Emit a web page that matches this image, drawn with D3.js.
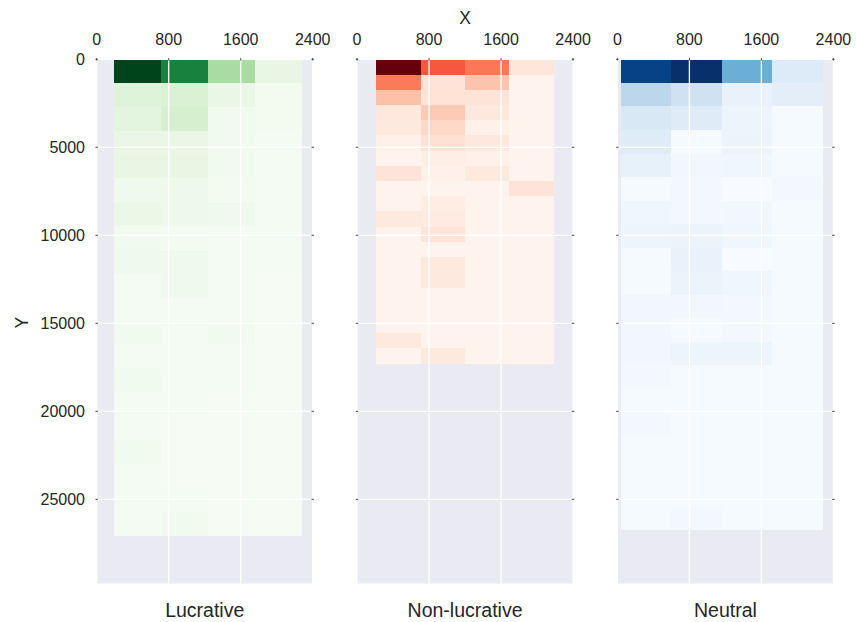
<!DOCTYPE html>
<html>
<head>
<meta charset="utf-8">
<script src="https://cdn.jsdelivr.net/npm/d3@7"></script>
<style>
  html, body { margin: 0; padding: 0; background: #ffffff; }
  svg { display: block; }
  text { font-family: "Liberation Sans", Arial, sans-serif; fill: #262626; }
</style>
</head>
<body>
<svg id="chart" width="856" height="622"></svg>
<script>
// Panel titles
const panelNames = ["Lucrative", "Non-lucrative", "Neutral"];

// Axis ticks (shared by all panels)
const xTicks = [0, 800, 1600, 2400];
const yTicks = [0, 5000, 10000, 15000, 20000, 25000];
const xDomain = [0, 2400];
const yDomain = [0, 29780];

// Data extents of each 2D histogram (X range, Y range)
const lucrativeXRange = [192, 2281];
const lucrativeYRange = [0, 27070];
const nonLucrativeXRange = [216, 2186];
const nonLucrativeYRange = [0, 17290];
const neutralXRange = [37, 2281];
const neutralYRange = [0, 26760];

// Bin counts: one row per Y bin (top to bottom), four X bins per row
const lucrativeCounts = [
  [100, 79, 35, 10],
  [15, 17, 9, 3],
  [13, 19, 4, 3],
  [9, 9, 4, 2],
  [10, 10, 4, 2],
  [5, 6, 3, 2],
  [8, 6, 5, 2],
  [4, 3, 2, 2],
  [5, 5, 2, 2],
  [2, 5, 2, 1],
  [2, 2, 2, 1],
  [4, 2, 4, 1],
  [2, 2, 2, 1],
  [4, 2, 2, 1],
  [2, 2, 1, 1],
  [2, 1, 1, 1],
  [4, 1, 1, 1],
  [2, 1, 1, 1],
  [2, 2, 1, 1],
  [2, 4, 1, 1]
];

const nonLucrativeCounts = [
  [100, 55, 46, 9],
  [45, 10, 22, 1],
  [23, 11, 10, 1],
  [8, 20, 8, 1],
  [7, 15, 3, 1],
  [3, 12, 8, 1],
  [1, 4, 3, 1],
  [10, 3, 7, 1],
  [1, 1, 1, 10],
  [1, 5, 1, 1],
  [7, 6, 1, 1],
  [1, 10, 1, 1],
  [1, 1, 1, 1],
  [1, 7, 1, 1],
  [1, 7, 1, 1],
  [1, 1, 1, 1],
  [1, 1, 1, 1],
  [1, 1, 1, 1],
  [7, 1, 1, 1],
  [1, 7, 1, 1]
];

const neutralCounts = [
  [93, 100, 50, 13],
  [28, 20, 7, 10],
  [15, 12, 5, 1],
  [12, 1, 6, 1],
  [8, 3, 4, 1],
  [1, 2, 0, 2],
  [4, 2, 3, 1],
  [5, 6, 4, 1],
  [1, 7, 0, 1],
  [1, 6, 4, 1],
  [3, 3, 2, 1],
  [3, 1, 2, 1],
  [3, 5, 5, 1],
  [2, 1, 1, 1],
  [1, 1, 1, 1],
  [2, 1, 1, 1],
  [1, 1, 1, 1],
  [1, 1, 1, 1],
  [1, 1, 1, 1],
  [1, 2, 1, 1]
];

const panels = [
  { name: panelNames[0], counts: lucrativeCounts, xRange: lucrativeXRange, yRange: lucrativeYRange, scheme: d3.schemeGreens[9] },
  { name: panelNames[1], counts: nonLucrativeCounts, xRange: nonLucrativeXRange, yRange: nonLucrativeYRange, scheme: d3.schemeReds[9] },
  { name: panelNames[2], counts: neutralCounts, xRange: neutralXRange, yRange: neutralYRange, scheme: d3.schemeBlues[9] }
];

// Layout
const svg = d3.select("#chart");
const firstLeft = 96.7, panelW = 216, panelGap = 44.35;
const plotTop = 59.3, plotBottom = 583.5;

const y = d3.scaleLinear().domain(yDomain).range([plotTop, plotBottom]);

// Equal-width bin edges between the ends of a range
function binEdges(range, n) {
  const step = (range[1] - range[0]) / n;
  return d3.range(n + 1).map(i => range[0] + i * step);
}

panels.forEach((p, i) => {
  const left = firstLeft + i * (panelW + panelGap);
  const x = d3.scaleLinear().domain(xDomain).range([left, left + panelW]);
  const g = svg.append("g");

  // Axes background
  g.append("rect")
    .attr("x", left).attr("y", plotTop)
    .attr("width", panelW).attr("height", plotBottom - plotTop)
    .attr("fill", "#EAEAF2");

  // Colour map: linear through the nine ColorBrewer stops
  const maxCount = d3.max(p.counts.flat());
  const color = d3.scaleLinear()
    .domain(d3.range(9).map(k => k / 8 * maxCount))
    .range(p.scheme)
    .interpolate(d3.interpolateRgb);

  const nRows = p.counts.length, nCols = p.counts[0].length;
  const xe = binEdges(p.xRange, nCols);
  const ye = binEdges(p.yRange, nRows);

  const cells = [];
  p.counts.forEach((row, r) => row.forEach((v, c) => cells.push({ r, c, v })));

  g.append("g").selectAll("rect").data(cells).join("rect")
    .attr("x", d => x(xe[d.c]))
    .attr("y", d => y(ye[d.r]))
    .attr("width", d => x(xe[d.c + 1]) - x(xe[d.c]))
    .attr("height", d => y(ye[d.r + 1]) - y(ye[d.r]))
    .attr("fill", d => color(d.v))
    .attr("shape-rendering", "crispEdges");

  // White grid on top of the cells
  g.append("g").selectAll("line").data(xTicks).join("line")
    .attr("x1", d => x(d)).attr("x2", d => x(d))
    .attr("y1", plotTop).attr("y2", plotBottom)
    .attr("stroke", "#ffffff").attr("stroke-width", 1.3);
  g.append("g").selectAll("line").data(yTicks).join("line")
    .attr("x1", left).attr("x2", left + panelW)
    .attr("y1", d => y(d)).attr("y2", d => y(d))
    .attr("stroke", "#ffffff").attr("stroke-width", 1.3);

  // Small tick marks on the frame
  const tickG = g.append("g").attr("stroke", "#444").attr("stroke-width", 1);
  tickG.selectAll("line.xt").data(xTicks).join("line").attr("class", "xt")
    .attr("x1", d => x(d)).attr("x2", d => x(d))
    .attr("y1", plotTop - 1.2).attr("y2", plotTop + 1.2);
  [left, left + panelW].forEach(ex => {
    tickG.append("g").selectAll("line").data(yTicks).join("line")
      .attr("x1", ex - 1.2).attr("x2", ex + 1.2)
      .attr("y1", d => y(d)).attr("y2", d => y(d));
  });

  // Top axis labels
  g.append("g").selectAll("text").data(xTicks).join("text")
    .attr("x", d => x(d)).attr("y", 45)
    .attr("text-anchor", "middle")
    .attr("font-size", "16px")
    .text(d => d);

  // Panel title below
  g.append("text")
    .attr("x", left + panelW / 2).attr("y", 616.7)
    .attr("text-anchor", "middle")
    .attr("font-size", "19.5px")
    .text(p.name);

  if (i === 0) {
    g.append("g").selectAll("text").data(yTicks).join("text")
      .attr("x", 85).attr("y", d => y(d))
      .attr("dy", "0.36em")
      .attr("text-anchor", "end")
      .attr("font-size", "16px")
      .text(d => d);
  }
  if (i === 1) {
    g.append("text")
      .attr("x", left + panelW / 2).attr("y", 24.3)
      .attr("text-anchor", "middle")
      .attr("font-size", "17.5px")
      .text("X");
  }
});

svg.append("text")
  .attr("transform", `translate(28,${(plotTop + plotBottom) / 2 + 1.3}) rotate(-90)`)
  .attr("text-anchor", "middle")
  .attr("font-size", "17.5px")
  .text("Y");
</script>
</body>
</html>
